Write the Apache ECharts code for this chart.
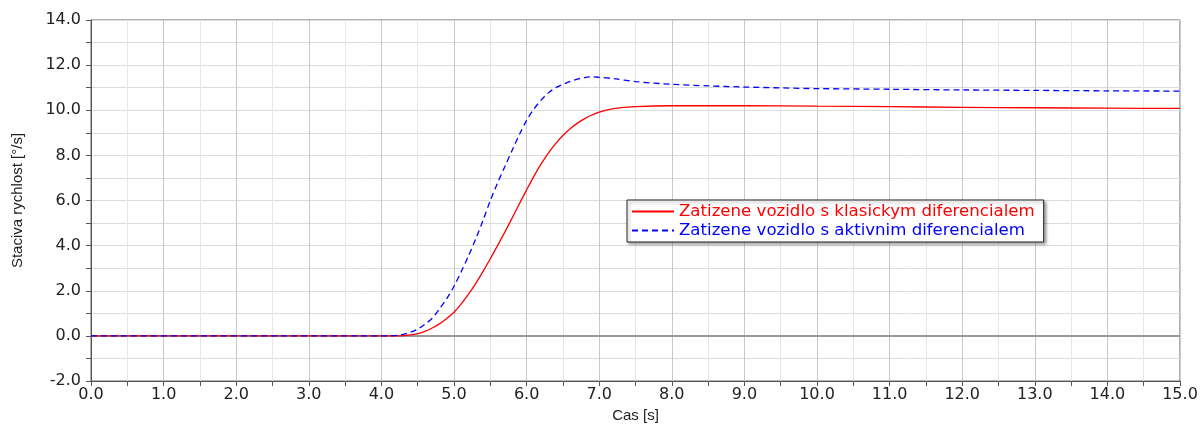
<!DOCTYPE html>
<html>
<head>
<meta charset="utf-8">
<script src="https://cdn.jsdelivr.net/npm/echarts@6/dist/echarts.min.js"></script>
<style>html,body{margin:0;padding:0;background:#fff}#c{width:1203px;height:427px}</style>
</head>
<body>
<div id="c"></div>
<script>
const seriesNames = ["Zatizene vozidlo s klasickym diferencialem", "Zatizene vozidlo s aktivnim diferencialem"];
const redX = [0,4.0,4.2,4.3,4.4,4.5,4.6,4.7,4.8,4.9,5.0,5.1,5.2,5.3,5.4,5.5,5.6,5.7,5.8,5.9,6.0,6.1,6.2,6.3,6.4,6.5,6.6,6.7,6.8,6.9,7.0,7.2,7.5,8.0,9.0,10.0,11.0,12.0,13.0,14.0,15.0];
const redY = [0,0,0,0.01,0.04,0.1,0.2,0.35,0.53,0.77,1.05,1.42,1.85,2.33,2.86,3.42,4.0,4.6,5.22,5.85,6.47,7.07,7.62,8.1,8.52,8.88,9.18,9.43,9.63,9.79,9.92,10.07,10.16,10.2,10.2,10.18,10.16,10.13,10.11,10.09,10.08];
const blueX = [0,4.0,4.1,4.2,4.3,4.4,4.5,4.6,4.7,4.8,4.9,5.0,5.1,5.2,5.3,5.4,5.5,5.6,5.7,5.8,5.9,6.0,6.1,6.2,6.3,6.4,6.5,6.6,6.7,6.8,6.9,7.0,7.2,7.5,8.0,8.5,9.0,9.5,10.0,11.0,12.0,13.0,14.0,15.0];
const blueY = [0,0,0,0.02,0.07,0.16,0.3,0.52,0.78,1.2,1.65,2.2,2.85,3.55,4.3,5.12,6.0,6.78,7.5,8.22,8.92,9.55,10.05,10.45,10.77,11.0,11.15,11.28,11.38,11.45,11.48,11.46,11.4,11.27,11.15,11.08,11.03,10.99,10.96,10.93,10.9,10.88,10.86,10.85];
const xTicks = {min: 0, max: 15, interval: 1};
const yTicks = {min: -2, max: 14, interval: 2};

const zip = (xs, ys) => xs.map((x, i) => [x, ys[i]]);
const font = "'Liberation Sans', Arial, sans-serif";
const tickFont = "'DejaVu Sans', sans-serif";
const chart = echarts.init(document.getElementById('c'), null, {renderer: 'canvas'});
chart.setOption({
  animation: false,
  backgroundColor: '#fff',
  grid: {left: 91, right: 23, top: 20, bottom: 46, show: true, borderColor: '#666', borderWidth: 1,
    backgroundColor: 'transparent', containLabel: false, outerBoundsMode: 'none'},
  legend: {
    orient: 'vertical', left: 627, top: 200,
    backgroundColor: '#fff', borderColor: '#222', borderWidth: 1, borderRadius: 0,
    padding: [3, 9, 3, 4], itemGap: 2, itemWidth: 42, itemHeight: 12,
    shadowColor: 'rgba(0,0,0,0.35)', shadowBlur: 3, shadowOffsetX: 2, shadowOffsetY: 2,
    itemStyle: {opacity: 0},
    textStyle: {fontFamily: tickFont, fontSize: 16.6},
    data: [
      {name: seriesNames[0], textStyle: {color: '#ff0000'}},
      {name: seriesNames[1], textStyle: {color: '#0000ff'}}
    ]
  },
  xAxis: {
    type: 'value', min: xTicks.min, max: xTicks.max, interval: xTicks.interval,
    name: 'Cas [s]', nameLocation: 'middle', nameGap: 27,
    nameTextStyle: {fontFamily: font, fontSize: 15, color: '#222'},
    axisLine: {show: true, onZero: false, lineStyle: {color: '#555', width: 1}},
    axisTick: {show: true, length: 5, lineStyle: {color: '#555'}},
    minorTick: {show: true, splitNumber: 2, length: 5, lineStyle: {color: '#555'}},
    axisLabel: {fontFamily: tickFont, fontSize: 16, color: '#222', margin: 6, formatter: v => v.toFixed(1)},
    splitLine: {show: true, lineStyle: {color: '#c8c8c8', width: 1}},
    minorSplitLine: {show: true, lineStyle: {color: '#e6e6e6', width: 1}}
  },
  yAxis: {
    type: 'value', min: yTicks.min, max: yTicks.max, interval: yTicks.interval,
    name: 'Staciva rychlost [°/s]', nameLocation: 'middle', nameGap: 66,
    nameTextStyle: {fontFamily: font, fontSize: 15, color: '#222'},
    axisLine: {show: true, onZero: false, lineStyle: {color: '#555', width: 1}},
    axisTick: {show: true, length: 5, lineStyle: {color: '#555'}},
    minorTick: {show: true, splitNumber: 2, length: 5, lineStyle: {color: '#555'}},
    axisLabel: {fontFamily: tickFont, fontSize: 16, color: '#222', margin: 10, formatter: v => v.toFixed(1)},
    splitLine: {show: true, lineStyle: {color: '#dcdcdc', width: 1}},
    minorSplitLine: {show: true, lineStyle: {color: '#dcdcdc', width: 1}}
  },
  series: [
    {
      name: seriesNames[0], type: 'line', data: zip(redX, redY), symbol: 'none', smooth: 0.3, z: 4,
      lineStyle: {color: '#ff0000', width: 1.3}, itemStyle: {color: '#ff0000'},
      markLine: {silent: true, symbol: 'none', label: {show: false}, z: 1,
        lineStyle: {color: '#999', width: 2, type: 'solid'}, data: [{yAxis: 0}]}
    },
    {
      name: seriesNames[1], type: 'line', data: zip(blueX, blueY), symbol: 'none', smooth: 0.3, z: 5,
      lineStyle: {color: '#0000ff', width: 1.3, type: [6, 4]}, itemStyle: {color: '#0000ff'}
    }
  ]
});
</script>
</body>
</html>
